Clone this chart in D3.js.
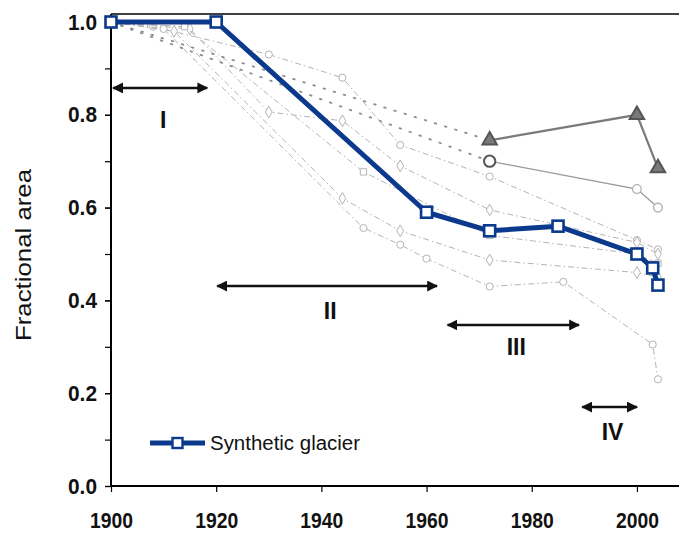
<!DOCTYPE html>
<html>
<head>
<meta charset="utf-8">
<script src="https://cdn.jsdelivr.net/npm/d3@7"></script>
<style>
  html, body { margin: 0; padding: 0; background: #fff; }
  svg { display: block; }
  text { font-family: "Liberation Sans", Arial, sans-serif; }
</style>
</head>
<body>
<svg id="chart" width="679" height="536"></svg>
<script>
// Synthetic glacier (mean of the measured glaciers)
const synthYears = [1900, 1920, 1960, 1972, 1985, 2000, 2003, 2004];
const synthArea  = [1.0, 1.0, 0.59, 0.55, 0.56, 0.50, 0.47, 0.433];

// Individual glaciers (year, fractional area)
const glacierA = [[1900, 1.0], [1908, 0.99], [1930, 0.93], [1944, 0.88], [1955, 0.735], [1972, 0.667], [2000, 0.53], [2004, 0.51]];
const glacierB = [[1900, 1.0], [1915, 0.985], [1930, 0.806], [1944, 0.787], [1955, 0.69], [1972, 0.595], [2000, 0.525], [2004, 0.50]];
const glacierC = [[1900, 1.0], [1914, 0.99], [1948, 0.677], [1972, 0.54], [2000, 0.50], [2004, 0.48]];
const glacierD = [[1900, 1.0], [1912, 0.98], [1944, 0.62], [1955, 0.55], [1972, 0.487], [2000, 0.46], [2004, 0.45]];
const glacierE = [[1900, 1.0], [1910, 0.985], [1948, 0.556], [1955, 0.52], [1960, 0.49], [1972, 0.43], [1986, 0.44], [2003, 0.305], [2004, 0.23]];

// Glaciers surveyed only from 1972 on (joined to 1900 by a dotted line)
const triYears  = [1900, 1972, 2000, 2004];
const triArea   = [1.0, 0.745, 0.80, 0.685];
const circYears = [1900, 1972, 2000, 2004];
const circArea  = [1.0, 0.70, 0.64, 0.60];

// Phases I-IV
const phaseNames = ["I", "II", "III", "IV"];
const phaseStart = [1900.4, 1920.2, 1964, 1989.6];
const phaseEnd   = [1918.3, 1962, 1989, 2000];
const phaseLevel = [0.858, 0.431, 0.347, 0.170];

const xTicks = [1900, 1920, 1940, 1960, 1980, 2000];
const yTicks = [0.0, 0.2, 0.4, 0.6, 0.8, 1.0];

const svg = d3.select("#chart");
const x = d3.scaleLinear().domain([1900, 2008]).range([111, 679]);
const y = d3.scaleLinear().domain([0, 1]).range([486, 22]);

const blue = "#0b3a8c";
const faint = "#b4b4b4";
const darkGray = "#7a7a7a";

// Frame top
svg.append("line")
  .attr("x1", x(1900)).attr("x2", x(2008))
  .attr("y1", y(1) - 8).attr("y2", y(1) - 8)
  .attr("stroke", "#000").attr("stroke-width", 1.5);

// Axes
const xAxis = d3.axisBottom(x).tickValues(xTicks).tickFormat(d3.format("d")).tickSize(6).tickPadding(20);
const gx = svg.append("g").attr("transform", `translate(0,${y(0)})`).call(xAxis);
gx.select(".domain").attr("stroke-width", 2).attr("d", `M${x(1900)},0H${x(2008)}`);
gx.selectAll(".tick line").attr("stroke-width", 1.2);
gx.selectAll("text").attr("font-size", 22).attr("font-weight", "bold").attr("fill", "#111")
  .attr("font-family", "'Liberation Sans', Arial, sans-serif")
  .attr("textLength", 43).attr("lengthAdjust", "spacingAndGlyphs");

const yAxisMinor = d3.axisLeft(y).tickValues(d3.range(0, 1.01, 0.1)).tickFormat("").tickSize(6);
svg.append("g").attr("transform", `translate(${x(1900)},0)`).call(yAxisMinor)
  .call(g => g.select(".domain").remove())
  .selectAll(".tick line").attr("stroke-width", 1.2);

const yAxis = d3.axisLeft(y).tickValues(yTicks).tickFormat(d3.format(".1f")).tickSize(6).tickPadding(8);
const gy = svg.append("g").attr("transform", `translate(${x(1900)},0)`).call(yAxis);
gy.select(".domain").attr("stroke-width", 2).attr("d", `M0,${y(1) - 8}V${y(0)}`);
gy.selectAll(".tick line").attr("stroke-width", 1.2);
gy.selectAll("text").attr("font-size", 22).attr("font-weight", "bold").attr("fill", "#111")
  .attr("font-family", "'Liberation Sans', Arial, sans-serif")
  .attr("textLength", 29).attr("lengthAdjust", "spacingAndGlyphs");

svg.append("text")
  .attr("transform", `translate(31,${(y(0) + y(1)) / 2 + 1}) rotate(-90)`)
  .attr("text-anchor", "middle")
  .attr("font-size", 22).attr("fill", "#111")
  .attr("textLength", 172).attr("lengthAdjust", "spacingAndGlyphs")
  .text("Fractional area");

const line = d3.line().x(d => x(d[0])).y(d => y(d[1]));

// Individual glaciers: faint dash-dot lines with hollow markers
const faintSeries = [
  { data: glacierA, shape: d3.symbolCircle },
  { data: glacierB, shape: d3.symbolDiamond },
  { data: glacierC, shape: d3.symbolSquare },
  { data: glacierD, shape: d3.symbolDiamond },
  { data: glacierE, shape: d3.symbolCircle }
];
faintSeries.forEach(s => {
  svg.append("path").datum(s.data)
    .attr("d", line).attr("fill", "none")
    .attr("stroke", faint).attr("stroke-width", 1)
    .attr("stroke-dasharray", "6,3,1.5,3");
  svg.selectAll(null).data(s.data.slice(1)).enter().append("path")
    .attr("transform", d => `translate(${x(d[0])},${y(d[1])})`)
    .attr("d", d3.symbol().type(s.shape).size(40))
    .attr("fill", "#fff").attr("stroke", faint).attr("stroke-width", 1);
});

// Glaciers from 1972: dotted to 1900, solid afterwards
function laterSeries(years, area, shape, filled, color) {
  const pts = years.map((yr, i) => [yr, area[i]]);
  svg.append("path").datum(pts.slice(0, 2))
    .attr("d", line).attr("fill", "none")
    .attr("stroke", "#8c8c8c").attr("stroke-width", 1.8)
    .attr("stroke-dasharray", "1.6,9").attr("stroke-linecap", "round");
  svg.append("path").datum(pts.slice(1))
    .attr("d", line).attr("fill", "none")
    .attr("stroke", color).attr("stroke-width", filled ? 2.2 : 1.3);
  svg.selectAll(null).data(pts.slice(1)).enter().append("path")
    .attr("transform", d => `translate(${x(d[0])},${y(d[1])})`)
    .attr("d", (d, i) => d3.symbol().type(shape).size(filled ? 90 : (i === 0 ? 100 : 60))())
    .attr("fill", filled ? color : "#fff")
    .attr("stroke", (d, i) => filled || i === 0 ? "#555" : faint)
    .attr("stroke-width", (d, i) => filled || i === 0 ? 2 : 1.4);
}
laterSeries(circYears, circArea, d3.symbolCircle, false, "#999");
laterSeries(triYears, triArea, d3.symbolTriangle, true, darkGray);

// Synthetic glacier
const synth = synthYears.map((yr, i) => [yr, synthArea[i]]);
svg.append("path").datum(synth)
  .attr("d", line).attr("fill", "none")
  .attr("stroke", blue).attr("stroke-width", 5).attr("stroke-linejoin", "round");
svg.selectAll(null).data(synth).enter().append("rect")
  .attr("x", d => x(d[0]) - 5.5).attr("y", d => y(d[1]) - 5.5)
  .attr("width", 11).attr("height", 11)
  .attr("fill", "#fff").attr("stroke", blue).attr("stroke-width", 2.6);

// Phase arrows
const defs = svg.append("defs");
defs.append("marker").attr("id", "head")
  .attr("viewBox", "0 0 10 10").attr("refX", 9).attr("refY", 5)
  .attr("markerWidth", 4.4).attr("markerHeight", 4.4)
  .attr("orient", "auto-start-reverse").attr("markerUnits", "strokeWidth")
  .append("path").attr("d", "M0,0L10,5L0,10z").attr("fill", "#111");

const labelDrop = [32, 25, 22, 25];
phaseNames.forEach((name, i) => {
  svg.append("line")
    .attr("x1", x(phaseStart[i])).attr("x2", x(phaseEnd[i]))
    .attr("y1", y(phaseLevel[i])).attr("y2", y(phaseLevel[i]))
    .attr("stroke", "#111").attr("stroke-width", 2.5)
    .attr("marker-start", "url(#head)").attr("marker-end", "url(#head)");
  svg.append("text")
    .attr("x", (x(phaseStart[i]) + x(phaseEnd[i])) / 2 + 3)
    .attr("y", y(phaseLevel[i]) + labelDrop[i] + 8)
    .attr("text-anchor", "middle")
    .attr("font-size", 23).attr("font-weight", "bold").attr("fill", "#111")
    .text(name);
});

// Legend
const lg = svg.append("g").attr("transform", "translate(150,443)");
lg.append("line").attr("x1", 0).attr("x2", 55).attr("y1", 0).attr("y2", 0)
  .attr("stroke", blue).attr("stroke-width", 5);
lg.append("rect").attr("x", 27.5 - 5).attr("y", -5).attr("width", 10).attr("height", 10)
  .attr("fill", "#fff").attr("stroke", blue).attr("stroke-width", 2.4);
lg.append("text").attr("x", 60).attr("y", 7)
  .attr("font-size", 20).attr("fill", "#111")
  .attr("textLength", 150).attr("lengthAdjust", "spacingAndGlyphs")
  .text("Synthetic glacier");
</script>
</body>
</html>
